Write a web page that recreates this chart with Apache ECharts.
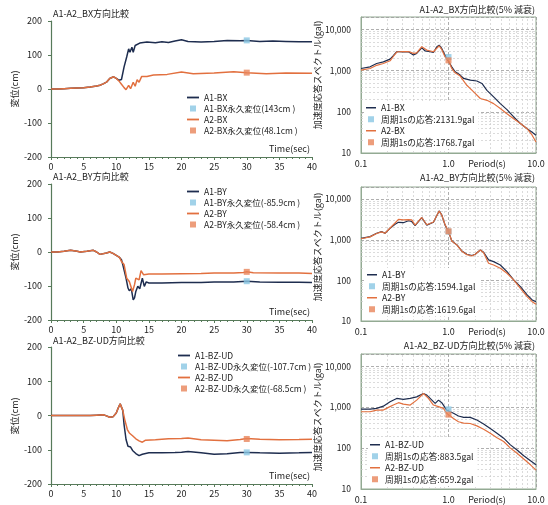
<!DOCTYPE html>
<html>
<head>
<meta charset="utf-8">
<script src="https://cdn.jsdelivr.net/npm/echarts@6/dist/echarts.min.js"></script>
<style>
  html, body { margin: 0; padding: 0; background: #fff; }
  #c { width: 548px; height: 505px; }
</style>
</head>
<body>
<div id="c"></div>
<script>
// ---- displacement time histories: [time (sec), displacement (cm)] ----
const bxDispA1 = [[0,0],[1,0],[2,1],[3,2],[4,3],[5,4],[6,6],[7,9],[7.5,11],[8,15],[8.5,20],[9,31],[9.3,35],[9.6,36],[10,31],[10.4,26],[10.8,28],[10.9,30],[11.2,65],[11.6,94],[11.9,118],[12.1,108],[12.4,123],[12.6,108],[12.9,128],[13.2,123],[13.6,135],[13.9,133],[14.7,138],[16,136],[17,139],[18,137],[19,141],[20,145],[21,140],[22,139],[23,138],[25,140],[27,143],[29,142],[30,143],[32,140],[34,141],[36,140],[38,139],[40,139]];
const bxDispA2 = [[0,0],[1,0],[2,1],[3,2],[4,3],[5,4],[6,6],[7,9],[7.5,11],[8,15],[8.5,20],[9,31],[9.3,35],[9.6,36],[10,31],[10.4,24],[10.8,14],[11,9],[11.2,4],[11.5,-2],[11.9,11],[12.2,1],[12.6,20],[12.9,8],[13.2,27],[13.5,20],[13.9,37],[14.7,37],[15.7,41],[17.8,43],[20,50],[21.8,45],[25,47],[28,51],[30,48],[33,45],[36,47],[40,46]];
const byDispA1 = [[0,0],[1,0],[2,2],[3,5],[4,2],[4.5,0],[5.5,2],[6.5,5],[7,0],[7.5,-7],[8.5,-3],[9,0],[9.5,-4],[10,-10],[10.5,-16],[10.8,-23],[11,-37],[11.5,-77],[11.8,-106],[12,-114],[12.3,-108],[12.6,-141],[12.8,-135],[13,-116],[13.3,-101],[13.6,-108],[14,-77],[14.3,-101],[14.6,-88],[15,-91],[17,-91],[20,-90],[23,-90],[25,-88],[28,-88],[30,-86],[32,-88],[35,-89],[38,-89],[40,-90]];
const byDispA2 = [[0,0],[1,0],[2,2],[3,5],[4,2],[4.5,0],[5.5,2],[6.5,5],[7,0],[7.5,-7],[8.5,-3],[9,0],[9.5,-4],[10,-10],[10.5,-16],[10.8,-28],[11.2,-37],[11.6,-77],[12,-87],[12.5,-116],[12.8,-96],[13,-77],[13.5,-82],[13.8,-55],[14.2,-67],[15,-65],[17,-65],[20,-64],[23,-63],[25,-62],[28,-62],[29.5,-60],[30,-58],[31,-61],[35,-62],[38,-62],[40,-63]];
const bzDispA1 = [[0,0],[2,0],[4,0],[6,0],[7,1],[8,2],[8.5,-1],[9,-5],[9.5,-4],[10,7],[10.3,22],[10.6,34],[10.8,29],[11,15],[11.2,-27],[11.5,-70],[11.8,-90],[12.2,-92],[12.5,-102],[13,-111],[13.5,-117],[14,-113],[15,-109],[17,-109],[19,-108],[20,-107],[21,-105],[23,-109],[25,-113],[27,-112],[29,-108],[30,-108],[32,-109],[35,-110],[38,-109],[40,-108]];
const bzDispA2 = [[0,0],[2,0],[4,0],[6,0],[7,1],[8,2],[8.5,-1],[9,-5],[9.5,-4],[10,7],[10.3,22],[10.6,34],[10.8,29],[11,15],[11.3,-12],[11.7,-41],[12,-51],[12.5,-59],[13,-68],[13.5,-74],[14,-78],[14.5,-72],[16,-71],[18,-68],[20,-67],[21,-66],[23,-71],[25,-72],[27,-74],[29,-70],[30,-67],[32,-69],[35,-71],[38,-70],[40,-69]];

// permanent displacement read at t = 30 s (cm)
const permTime = 30;
const bxPerm = [143, 48.1];
const byPerm = [-85.9, -58.4];
const bzPerm = [-107.7, -68.5];

// ---- acceleration response spectra (5% damping): [period (s), gal] ----
const bxSpecA1 = [[0.1,1125],[0.127,1235],[0.151,1490],[0.18,1630],[0.188,1490],[0.215,1900],[0.234,2300],[0.256,2865],[0.27,2870],[0.3,2850],[0.348,2880],[0.365,3000],[0.397,2380],[0.433,2620],[0.495,3580],[0.541,3000],[0.617,2870],[0.673,2750],[0.736,3800],[0.782,4130],[0.837,3440],[0.891,2620],[0.955,1980],[1.0,2132],[1.09,1235],[1.19,936],[1.36,778],[1.49,645],[1.77,585],[2.11,560],[2.41,487],[2.75,332],[3.28,230],[3.91,158],[4.66,113],[5.56,75],[6.63,52],[7.92,39],[9.04,32],[10,27]];
const bxSpecA2 = [[0.1,1030],[0.127,1125],[0.151,1345],[0.18,1490],[0.215,1730],[0.234,2200],[0.256,2800],[0.27,2870],[0.3,2900],[0.348,2900],[0.365,3050],[0.397,2620],[0.433,2700],[0.495,3800],[0.565,3150],[0.673,2870],[0.782,4000],[0.837,3250],[0.914,2150],[1.0,1769],[1.09,1125],[1.19,886],[1.36,735],[1.62,440],[1.94,305],[2.31,210],[2.75,190],[3.28,158],[3.91,120],[4.66,90],[5.56,68],[6.63,52],[7.92,39],[9.04,27],[10,18.5]];
const bySpecA1 = [[0.1,1090],[0.127,1200],[0.151,1450],[0.172,1590],[0.188,1450],[0.215,1930],[0.245,2420],[0.268,2700],[0.305,2640],[0.348,2950],[0.38,2820],[0.415,2250],[0.495,3530],[0.565,2300],[0.673,2700],[0.782,5150],[0.837,4100],[0.914,2300],[1.0,1594],[1.09,935],[1.25,750],[1.42,530],[1.62,440],[1.85,410],[2.02,440],[2.31,560],[2.52,495],[2.87,320],[3.28,290],[3.91,240],[4.66,165],[5.56,103],[6.63,70],[7.92,44],[9.04,33],[10,30]];
const bySpecA2 = [[0.1,1060],[0.127,1180],[0.151,1430],[0.172,1570],[0.188,1450],[0.215,1950],[0.245,2600],[0.268,3200],[0.305,3100],[0.348,3150],[0.38,3100],[0.415,2300],[0.495,3550],[0.565,2350],[0.673,2750],[0.782,5100],[0.837,4050],[0.914,2350],[1.0,1620],[1.09,935],[1.25,740],[1.42,525],[1.62,430],[1.85,400],[2.02,440],[2.31,560],[2.52,480],[2.87,265],[3.28,240],[3.91,200],[4.66,150],[5.56,103],[6.63,64],[7.92,40],[9.04,30],[10,26]];
const bzSpecA1 = [[0.1,900],[0.127,900],[0.151,940],[0.18,1060],[0.215,1360],[0.256,1640],[0.305,1550],[0.365,1640],[0.433,1790],[0.517,2160],[0.565,1970],[0.617,1640],[0.704,1240],[0.768,1490],[0.837,1290],[0.955,850],[1.0,884],[1.14,710],[1.3,610],[1.49,565],[1.77,565],[2.11,485],[2.52,390],[3.0,300],[3.58,230],[4.27,175],[5.1,120],[6.07,90],[7.25,65],[8.65,49],[10,39]];
const bzSpecA2 = [[0.1,775],[0.127,775],[0.151,850],[0.18,850],[0.206,990],[0.234,1130],[0.268,1290],[0.305,1190],[0.365,1130],[0.433,1490],[0.517,2160],[0.59,1640],[0.673,1130],[0.768,1030],[0.875,940],[0.955,710],[1.0,659],[1.14,530],[1.3,440],[1.49,410],[1.77,400],[2.11,350],[2.52,290],[3.0,230],[3.58,180],[4.27,145],[5.1,100],[6.07,75],[7.25,54],[8.65,39],[10,29]];

// response at a period of 1 s (gal)
const respPeriod = 1.0;
const bxResp = [2131.9, 1768.7];
const byResp = [1594.1, 1619.6];
const bzResp = [883.5, 659.2];

// tick labels of the spectrum axes
const periodTicks = [0.1, 1, 10];
const periodTickLabels = ['0.1', '1.0', '10.0'];
const accelTicks = [10, 100, 1000, 10000];
const accelTickLabels = ['10', '100', '1,000', '10,000'];

const directions = ['BX', 'BY', 'BZ-UD'];

// ---- assembly ----
const dispSets = [[bxDispA1, bxDispA2], [byDispA1, byDispA2], [bzDispA1, bzDispA2]];
const permSets = [bxPerm, byPerm, bzPerm];
const specSets = [[bxSpecA1, bxSpecA2], [bySpecA1, bySpecA2], [bzSpecA1, bzSpecA2]];
const respSets = [bxResp, byResp, bzResp];

const FONT = '"Noto Sans CJK JP", "Noto Sans", sans-serif';
const NAVY = '#1e2d4f', ORANGE = '#e2703f', SKY = '#8ac7e4', PEACH = '#e8845a';
const AXIS_GREEN = '#577a5a', FRAME = '#93aa93', TXT = '#222';
const LINE_ICON = 'path://M0,0H20V3H0Z';
const SQUARE_ICON = 'path://M0,0H10V10H0Z';

const leftBoxes  = [{ top: 21, height: 136 }, { top: 184, height: 136 }, { top: 347, height: 137 }];
const rightBoxes = [{ top: 17, height: 136 }, { top: 187, height: 134 }, { top: 354, height: 135 }];
const leftTitleTop = [9, 172, 336];
const rightTitleTop = [5, 173, 341];
const leftLegendPos = [[187, 92], [187, 186], [178, 350]];
const rightLegendPos = [[364, 101], [365, 268], [368, 438]];
const dispNameY = [89, 252, 416];
const specNameY = [75, 247, 417];

function pickLabel(v, ticks, labels) {
  for (let i = 0; i < ticks.length; i++) {
    if (Math.abs(Math.log10(v) - Math.log10(ticks[i])) < 1e-6) return labels[i];
  }
  return '';
}

// minor log grid lines (2..9 within each decade)
const minorGrid = [];
[0.1, 1].forEach(d => { for (let m = 2; m <= 9; m++) minorGrid.push({ xAxis: +(m * d).toFixed(3) }); });
[10, 100, 1000].forEach(d => { for (let m = 2; m <= 9; m++) minorGrid.push({ yAxis: m * d }); });

const grid = [], xAxis = [], yAxis = [], series = [], legend = [], title = [], graphic = [];
const labelStyle = { fontSize: 9, color: TXT, fontFamily: FONT };

for (let k = 0; k < 3; k++) {
  const d = directions[k];
  const n1 = 'A1-' + d, n2 = 'A2-' + d;
  const p1 = n1 + '永久変位(' + permSets[k][0] + 'cm )';
  const p2 = n2 + '永久変位(' + permSets[k][1] + 'cm )';
  const r1 = '周期1sの応答:' + respSets[k][0] + 'gal';
  const r2 = '周期1sの応答:' + respSets[k][1] + 'gal';
  const L = k, R = k + 3;

  // displacement panel
  grid[L] = { left: 51, width: 261, top: leftBoxes[k].top, height: leftBoxes[k].height, containLabel: false };
  xAxis[L] = {
    type: 'value', gridIndex: L, min: 0, max: 40, interval: 5,
    axisLine: { show: true, onZero: false, lineStyle: { color: AXIS_GREEN, width: 1.2 } },
    axisTick: { show: true, length: 3, lineStyle: { color: AXIS_GREEN } },
    minorTick: { show: true, splitNumber: 5, length: 2, lineStyle: { color: AXIS_GREEN } },
    splitLine: { show: false },
    axisLabel: Object.assign({ margin: 5 }, labelStyle)
  };
  yAxis[L] = {
    type: 'value', gridIndex: L, min: -200, max: 200, interval: 100,
    axisLine: { show: true, lineStyle: { color: AXIS_GREEN, width: 1.2 } },
    axisTick: { show: true, length: 3, lineStyle: { color: AXIS_GREEN } },
    splitLine: { show: false },
    axisLabel: Object.assign({ margin: 9 }, labelStyle)
  };
  series.push(
    { type: 'line', name: n1, xAxisIndex: L, yAxisIndex: L, data: dispSets[k][0], symbol: 'none',
      lineStyle: { color: NAVY, width: 1.5 }, itemStyle: { color: NAVY } },
    { type: 'scatter', name: p1, xAxisIndex: L, yAxisIndex: L, data: [[permTime, permSets[k][0]]],
      symbol: 'rect', symbolSize: 6, itemStyle: { color: SKY }, z: 4 },
    { type: 'line', name: n2, xAxisIndex: L, yAxisIndex: L, data: dispSets[k][1], symbol: 'none',
      lineStyle: { color: ORANGE, width: 1.5 }, itemStyle: { color: ORANGE } },
    { type: 'scatter', name: p2, xAxisIndex: L, yAxisIndex: L, data: [[permTime, permSets[k][1]]],
      symbol: 'rect', symbolSize: 6, itemStyle: { color: PEACH }, z: 4 }
  );
  title.push({ text: 'A1-A2_' + d + '方向比較', left: 53, top: leftTitleTop[k], padding: 0,
    textStyle: { fontSize: 9, fontWeight: 'normal', color: TXT, fontFamily: FONT } });
  legend.push({
    left: leftLegendPos[k][0], top: leftLegendPos[k][1], orient: 'vertical', padding: 0, itemGap: 0,
    itemWidth: 12, itemHeight: 6, selectedMode: false,
    textStyle: { fontSize: 8.5, color: TXT, fontFamily: FONT, lineHeight: 11 },
    data: [
      { name: n1, icon: LINE_ICON },
      { name: p1, icon: SQUARE_ICON },
      { name: n2, icon: LINE_ICON },
      { name: p2, icon: SQUARE_ICON }
    ]
  });
  graphic.push({ type: 'text', x: 15, y: dispNameY[k], rotation: Math.PI / 2,
    style: { text: '変位(cm)', align: 'center', verticalAlign: 'middle', fontSize: 9, fill: TXT, fontFamily: FONT } });
  graphic.push({ type: 'text', x: 310, y: leftBoxes[k].top + leftBoxes[k].height - 8,
    style: { text: 'Time(sec)', align: 'right', verticalAlign: 'middle', fontSize: 9, fill: TXT, fontFamily: FONT } });

  // spectrum panel
  grid[R] = { left: 361, width: 175, top: rightBoxes[k].top, height: rightBoxes[k].height,
    show: true, borderColor: FRAME, borderWidth: 1, backgroundColor: 'transparent' };
  xAxis[R] = {
    type: 'log', logBase: 10, gridIndex: R, min: 0.1, max: 10,
    axisLine: { show: true, lineStyle: { color: FRAME } },
    axisTick: { show: false },
    splitLine: { show: true, lineStyle: { color: '#9a9a9a', type: [3, 2], width: 0.8 } },
    axisLabel: Object.assign({ margin: 6, formatter: v => pickLabel(v, periodTicks, periodTickLabels) }, labelStyle)
  };
  yAxis[R] = {
    type: 'log', logBase: 10, gridIndex: R, min: 10, max: 20000,
    axisLine: { show: true, lineStyle: { color: FRAME } },
    axisTick: { show: false },
    splitLine: { show: true, lineStyle: { color: '#9a9a9a', type: [3, 2], width: 0.8 } },
    axisLabel: Object.assign({ margin: 10, formatter: v => pickLabel(v, accelTicks, accelTickLabels) }, labelStyle, { fontSize: 8.5 })
  };
  series.push(
    { type: 'line', name: n1, xAxisIndex: R, yAxisIndex: R, data: specSets[k][0], symbol: 'none',
      lineStyle: { color: NAVY, width: 1.2 }, itemStyle: { color: NAVY },
      markLine: { silent: true, z: 1, symbol: ['none', 'none'], label: { show: false },
        lineStyle: { color: '#cccccc', type: [2, 2], width: 0.7 }, emphasis: { disabled: true },
        animation: false, data: minorGrid } },
    { type: 'scatter', name: r1, xAxisIndex: R, yAxisIndex: R, data: [[respPeriod, respSets[k][0]]],
      symbol: 'rect', symbolSize: 6, itemStyle: { color: SKY }, z: 4 },
    { type: 'line', name: n2, xAxisIndex: R, yAxisIndex: R, data: specSets[k][1], symbol: 'none',
      lineStyle: { color: ORANGE, width: 1.2 }, itemStyle: { color: ORANGE } },
    { type: 'scatter', name: r2, xAxisIndex: R, yAxisIndex: R, data: [[respPeriod, respSets[k][1]]],
      symbol: 'rect', symbolSize: 6, itemStyle: { color: PEACH }, z: 4 }
  );
  title.push({ text: 'A1-A2_' + d + '方向比較(5% 減衰)', right: 13, top: rightTitleTop[k], padding: 0,
    textStyle: { fontSize: 9, fontWeight: 'normal', color: TXT, fontFamily: FONT } });
  legend.push({
    left: rightLegendPos[k][0], top: rightLegendPos[k][1], orient: 'vertical', padding: [1, 4, 1, 2], itemGap: 0,
    itemWidth: 10, itemHeight: 6, selectedMode: false, backgroundColor: '#fff',
    textStyle: { fontSize: 8.7, color: TXT, fontFamily: FONT, lineHeight: 11.5 },
    data: [
      { name: n1, icon: LINE_ICON },
      { name: r1, icon: SQUARE_ICON },
      { name: n2, icon: LINE_ICON },
      { name: r2, icon: SQUARE_ICON }
    ]
  });
  graphic.push({ type: 'text', x: 318, y: specNameY[k], rotation: Math.PI / 2,
    style: { text: '加速度応答スペクトル(gal)', align: 'center', verticalAlign: 'middle', fontSize: 9, fill: TXT, fontFamily: FONT } });
  graphic.push({ type: 'text', x: 487, y: rightBoxes[k].top + rightBoxes[k].height + 11,
    style: { text: 'Period(s)', align: 'center', verticalAlign: 'middle', fontSize: 9, fill: TXT, fontFamily: FONT } });
}

const chart = echarts.init(document.getElementById('c'), null, { renderer: 'canvas' });
chart.setOption({
  animation: false,
  backgroundColor: '#fff',
  textStyle: { fontFamily: FONT },
  title, grid, xAxis, yAxis, legend, series, graphic
});
</script>
</body>
</html>
